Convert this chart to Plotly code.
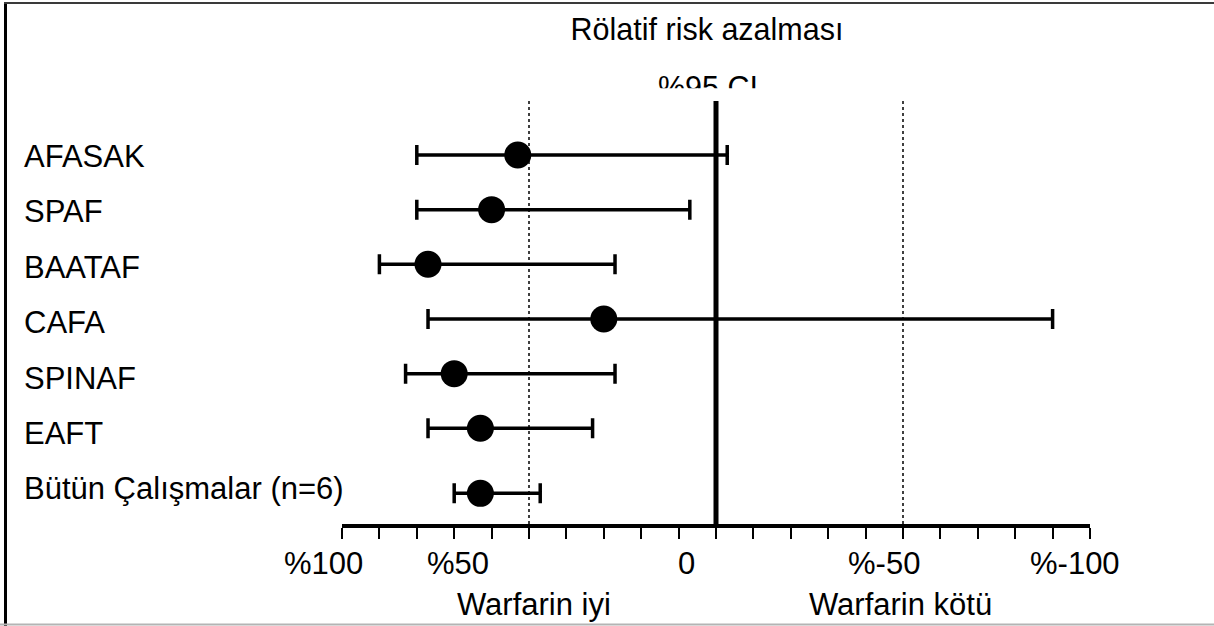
import plotly.graph_objects as go

# ---- data (relative risk reduction, %) ----
studies = ["AFASAK", "SPAF", "BAATAF", "CAFA", "SPINAF", "EAFT", "Bütün Çalışmalar (n=6)"]
rrr = [53, 60, 77, 30, 70, 63, 63]
ci_high = [80, 80, 90, 77, 83, 77, 70]
ci_low = [-3, 7, 27, -90, 27, 33, 47]

tick_labels = ["%100", "%50", "0", "%-50", "%-100"]
tick_label_at = [105, 69, 8, -45, -96]
side_labels = ["Warfarin iyi", "Warfarin kötü"]
side_label_at = [48.7, -49.2]
title_lines = ["Rölatif risk azalması", "%95 CI"]

# ---- layout constants ----
W, H = 1214, 626
FONT = "Liberation Sans, Arial, sans-serif"
pooled_gap = 0.19
rows = [i for i in range(len(studies) - 1)] + [len(studies) - 1 + pooled_gap]
X_RANGE = [100, -100]
X_DOM = [342 / W, 1090 / W]
LABEL_TOP_PX = 156.5
LABEL_STEP_PX = 55.4


def px_x(p):
    return p / W


def px_y(p):
    return 1 - p / H


def x_to_paper(v):
    # position of an x-axis value on the paper (same linear scale as the axis)
    f = (v - X_RANGE[0]) / (X_RANGE[1] - X_RANGE[0])
    return X_DOM[0] + f * (X_DOM[1] - X_DOM[0])


fig = go.Figure()

fig.add_trace(go.Scatter(
    x=rrr, y=rows, mode="markers",
    marker=dict(symbol="circle", size=27, color="black"),
    error_x=dict(type="data", symmetric=False,
                 array=[h - e for h, e in zip(ci_high, rrr)],
                 arrayminus=[e - l for e, l in zip(rrr, ci_low)],
                 color="black", thickness=3.5, width=10),
    showlegend=False, hoverinfo="skip",
))

# title, clipped at the top of the chart area like the reference
fig.add_trace(go.Scatter(
    x=[707, 708], y=[32, 90.5], mode="text", text=title_lines,
    textfont=dict(family=FONT, size=30.5, color="black"),
    textposition="middle center", cliponaxis=True,
    xaxis="x2", yaxis="y2", showlegend=False, hoverinfo="skip",
))

shapes = []
for v in (50, -50):
    shapes.append(dict(type="line", xref="x", yref="y domain", x0=v, x1=v, y0=0, y1=1,
                       line=dict(color="black", width=1.5, dash="dot"), layer="below"))
shapes.append(dict(type="line", xref="x", yref="y domain", x0=0, x1=0, y0=0, y1=1,
                   line=dict(color="black", width=5), layer="above"))
# page frame
shapes.append(dict(type="line", xref="paper", yref="paper", x0=px_x(5.5), x1=px_x(5.5), y0=0, y1=px_y(2),
                   line=dict(color="black", width=3)))
shapes.append(dict(type="line", xref="paper", yref="paper", x0=px_x(4), x1=1, y0=px_y(3), y1=px_y(3),
                   line=dict(color="#3a3a3a", width=2)))
shapes.append(dict(type="line", xref="paper", yref="paper", x0=0, x1=1, y0=px_y(624.5), y1=px_y(624.5),
                   line=dict(color="#b4b4b4", width=2)))

annotations = []
for i, name in enumerate(studies):
    annotations.append(dict(text=name, xref="paper", x=px_x(22), xanchor="left",
                            yref="paper", y=px_y(LABEL_TOP_PX + i * LABEL_STEP_PX),
                            yanchor="middle", showarrow=False,
                            font=dict(family=FONT, size=31, color="black")))
for lab, v in zip(tick_labels, tick_label_at):
    annotations.append(dict(text=lab, xref="paper", x=x_to_paper(v), xanchor="center",
                            yref="paper", y=px_y(563), yanchor="middle", showarrow=False,
                            font=dict(family=FONT, size=31, color="black")))
for lab, v in zip(side_labels, side_label_at):
    annotations.append(dict(text=lab, xref="paper", x=x_to_paper(v), xanchor="center",
                            yref="paper", y=px_y(604), yanchor="middle", showarrow=False,
                            font=dict(family=FONT, size=31, color="black")))

fig.update_layout(
    width=W, height=H,
    margin=dict(l=0, r=0, t=0, b=0),
    paper_bgcolor="white", plot_bgcolor="rgba(0,0,0,0)",
    showlegend=False,
    xaxis=dict(domain=X_DOM, range=X_RANGE,
               showline=True, linewidth=4, linecolor="black",
               ticks="outside", tickvals=list(range(-100, 101, 10)),
               ticklen=11, tickwidth=2, tickcolor="black",
               showticklabels=False, showgrid=False, zeroline=False, anchor="y"),
    yaxis=dict(domain=[px_y(524), px_y(101)], range=[6.751, -0.988],
               visible=False, showgrid=False, zeroline=False, anchor="x"),
    xaxis2=dict(domain=[0, 1], range=[0, W], visible=False, anchor="y2"),
    yaxis2=dict(domain=[px_y(88.3), 1], range=[88.3, 0], visible=False, anchor="x2"),
    shapes=shapes,
    annotations=annotations,
)

fig.write_html("out.html", config={"displayModeBar": False},
               post_script="document.body.style.margin='0';document.body.style.padding='0';")
